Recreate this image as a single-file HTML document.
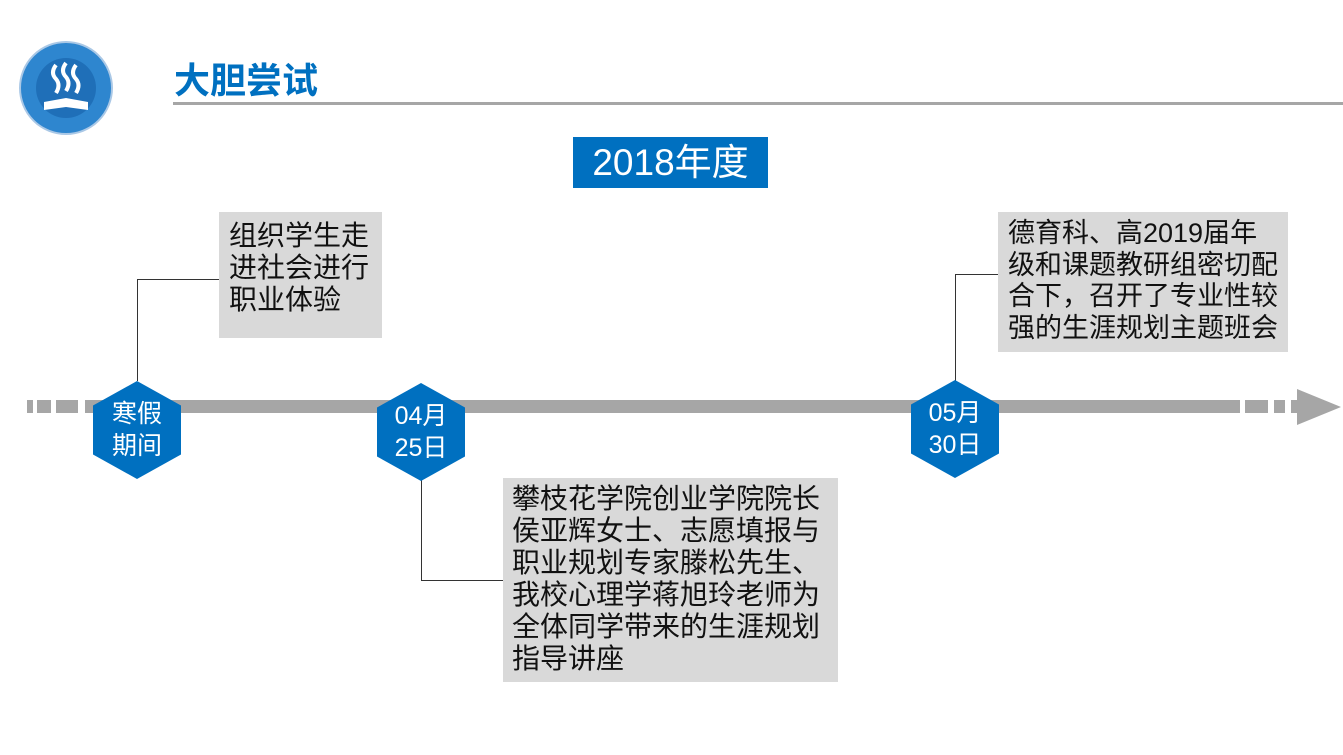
<!DOCTYPE html>
<html><head><meta charset="utf-8"><style>
body{margin:0;width:1343px;height:755px;background:#fff;position:relative;overflow:hidden;font-family:"Liberation Sans","Noto Sans CJK SC",sans-serif;}
.a{position:absolute}
.box{position:absolute;background:#d9d9d9;color:#111;font-size:28px;line-height:32px;padding:6px 9px;box-sizing:border-box;}
.hex{position:absolute;width:88px;height:98px;background:#0070c0;clip-path:polygon(50% 0,100% 25%,100% 75%,50% 100%,0 75%,0 25%);color:#fff;font-size:25px;line-height:32px;text-align:center;display:flex;align-items:center;justify-content:center;}
.ln{position:absolute;background:#333}
.g{position:absolute;background:#a6a6a6;top:400px;height:13px}
</style></head><body>
<svg class="a" style="left:18px;top:40px" width="98" height="96" viewBox="0 0 98 96">
<circle cx="48" cy="48" r="46" fill="#2e86cf" stroke="#aac8e6" stroke-width="2"/>
<circle cx="48" cy="48" r="30" fill="#1f6fb8"/>
<path d="M38 25 q-6 8 0 14 q5 6 0 14 M48 23 q-6 8 0 14 q5 6 0 14 M58 25 q-6 8 0 14 q5 6 0 14" stroke="#fff" stroke-width="4" fill="none"/>
<path d="M26 62 L48 58 L70 62 L70 70 L48 67 L26 70Z" fill="#fff"/>
</svg>
<div class="a" style="left:174px;top:60px;font-size:36px;line-height:42px;font-weight:bold;color:#0070c0">大胆尝试</div>
<div class="a" style="left:173px;top:102px;width:1170px;height:3px;background:#a6a6a6"></div>
<div class="a" style="left:573px;top:137px;width:195px;height:51px;background:#0070c0;color:#fff;font-size:37px;line-height:51px;text-align:center">2018年度</div>

<div class="g" style="left:27px;width:6px"></div>
<div class="g" style="left:37px;width:14px"></div>
<div class="g" style="left:56px;width:22px"></div>
<div class="g" style="left:85px;width:1155px"></div>
<div class="g" style="left:1245px;width:23px"></div>
<div class="g" style="left:1274px;width:11px"></div>
<div class="g" style="left:1291px;width:8px"></div>
<svg class="a" style="left:1297px;top:389px" width="46" height="36"><polygon points="0,0 44,18 0,36" fill="#a6a6a6"/></svg>

<div class="ln" style="left:137px;top:279px;width:1px;height:102px"></div>
<div class="ln" style="left:137px;top:279px;width:82px;height:1px"></div>
<div class="ln" style="left:421px;top:480px;width:1px;height:100px"></div>
<div class="ln" style="left:421px;top:580px;width:82px;height:1px"></div>
<div class="ln" style="left:955px;top:274px;width:1px;height:107px"></div>
<div class="ln" style="left:955px;top:274px;width:43px;height:1px"></div>

<div class="hex" style="left:93px;top:381px">寒假<br>期间</div>
<div class="hex" style="left:377px;top:383px">04月<br>25日</div>
<div class="hex" style="left:911px;top:380px">05月<br>30日</div>

<div class="box" style="left:219px;top:212px;width:163px;height:126px;padding:8px 10px">组织学生走<br>进社会进行<br>职业体验</div>
<div class="box" style="left:503px;top:478px;width:335px;height:204px;padding:5px 9px">攀枝花学院创业学院院长<br>侯亚辉女士、志愿填报与<br>职业规划专家滕松先生、<br>我校心理学蒋旭玲老师为<br>全体同学带来的生涯规划<br>指导讲座</div>
<div class="box" style="left:998px;top:212px;width:290px;height:140px;font-size:27px;padding:6px 10px;line-height:31.5px">德育科、高2019届年<br>级和课题教研组密切配<br>合下，召开了专业性较<br>强的生涯规划主题班会</div>
</body></html>
